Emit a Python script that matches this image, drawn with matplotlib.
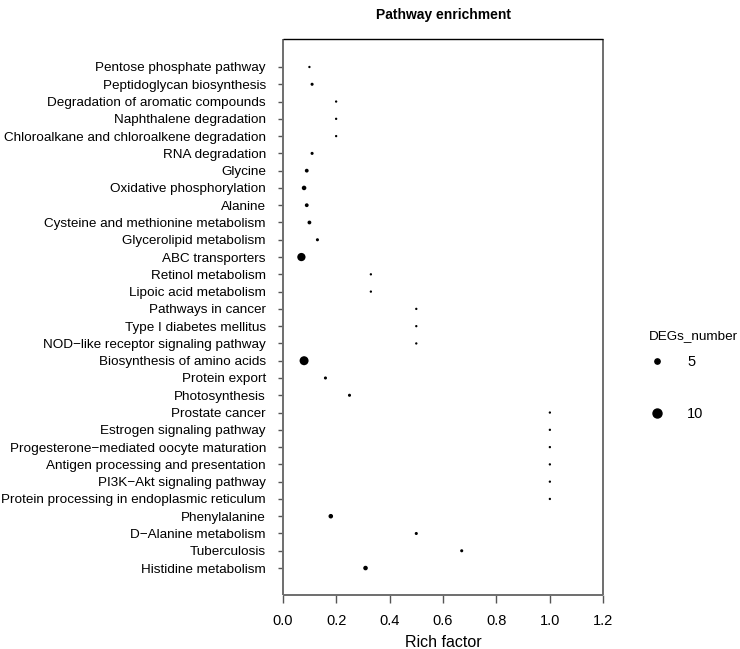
import matplotlib
matplotlib.use("Agg")
import matplotlib.pyplot as plt
from matplotlib.lines import Line2D

plt.rcParams['font.family'] = ['Liberation Sans', 'DejaVu Sans']

pathways = [
    "Pentose phosphate pathway",
    "Peptidoglycan biosynthesis",
    "Degradation of aromatic compounds",
    "Naphthalene degradation",
    "Chloroalkane and chloroalkene degradation",
    "RNA degradation",
    "Glycine",
    "Oxidative phosphorylation",
    "Alanine",
    "Cysteine and methionine metabolism",
    "Glycerolipid metabolism",
    "ABC transporters",
    "Retinol metabolism",
    "Lipoic acid metabolism",
    "Pathways in cancer",
    "Type I diabetes mellitus",
    "NOD\u2212like receptor signaling pathway",
    "Biosynthesis of amino acids",
    "Protein export",
    "Photosynthesis",
    "Prostate cancer",
    "Estrogen signaling pathway",
    "Progesterone\u2212mediated oocyte maturation",
    "Antigen processing and presentation",
    "PI3K\u2212Akt signaling pathway",
    "Protein processing in endoplasmic reticulum",
    "Phenylalanine",
    "D\u2212Alanine metabolism",
    "Tuberculosis",
    "Histidine metabolism",
]
rich_factor = [0.10, 0.11, 0.20, 0.20, 0.20, 0.11, 0.09, 0.08, 0.09, 0.10,
               0.13, 0.07, 0.33, 0.33, 0.50, 0.50, 0.50, 0.08, 0.16, 0.25,
               1.00, 1.00, 1.00, 1.00, 1.00, 1.00, 0.18, 0.50, 0.67, 0.31]
degs_number = [1, 2, 1, 1, 1, 2, 3, 4, 3, 3,
               2, 9, 1, 1, 1, 1, 1, 10, 2, 2,
               1, 1, 1, 1, 1, 1, 4, 2, 2, 4]
legend_values = [5, 10]
x_ticks = [0.0, 0.2, 0.4, 0.6, 0.8, 1.0, 1.2]

def size_of(n):
    d_px = 1.6 + 0.74 * n
    return (d_px * 0.72) ** 2

fig = plt.figure(figsize=(7.4, 6.49), dpi=100)
ax = fig.add_axes([282.7 / 740, 1 - 595 / 649, (603.3 - 282.7) / 740, (595 - 39) / 649])

n = len(pathways)
ypos = [n - i for i in range(n)]
ax.scatter(rich_factor, ypos, s=[size_of(v) for v in degs_number], color='black',
           edgecolors='none', zorder=3)

ax.set_xlim(0, 1.2)
ax.set_ylim(1 - 1.56, n + 1.62)
ax.set_xticks(x_ticks)
ax.set_xticklabels([f"{t:.1f}" for t in x_ticks], fontsize=10.5)
ax.set_yticks(ypos)
ax.set_yticklabels(pathways, fontsize=9.7)
ax.tick_params(axis='y', length=3.6, width=1.0, pad=8.5, color='#555555')
ax.tick_params(axis='x', length=5.8, width=1.0, pad=8, color='#555555')
for side in ['left', 'bottom', 'right']:
    ax.spines[side].set_color('#6e6e6e')
    ax.spines[side].set_linewidth(1.4)
ax.spines['top'].set_color('black')
ax.spines['top'].set_linewidth(1.0)
for sp in ax.spines.values():
    sp.set_capstyle('butt')

ax.set_xlabel("Rich factor", fontsize=11.5, labelpad=5)
fig.text(443 / 740, 1 - 15 / 649, "Pathway enrichment", ha='center', va='center',
         fontsize=10, fontweight='bold')

# legend
fig.text(649 / 740, 1 - 336 / 649, "DEGs_number", ha='left', va='center', fontsize=9.7)
handles = [Line2D([], [], linestyle='none', marker='o', color='black',
                  markersize=(size_of(v)) ** 0.5) for v in legend_values]
leg = fig.legend(handles, [str(v) for v in legend_values],
                 loc='upper left', bbox_to_anchor=(642 / 740, 1 - 348 / 649),
                 frameon=False, fontsize=10.5,
                 labelspacing=2.6, handletextpad=1.6, borderpad=0, handlelength=1.0)

fig.savefig("out.png", dpi=100)
